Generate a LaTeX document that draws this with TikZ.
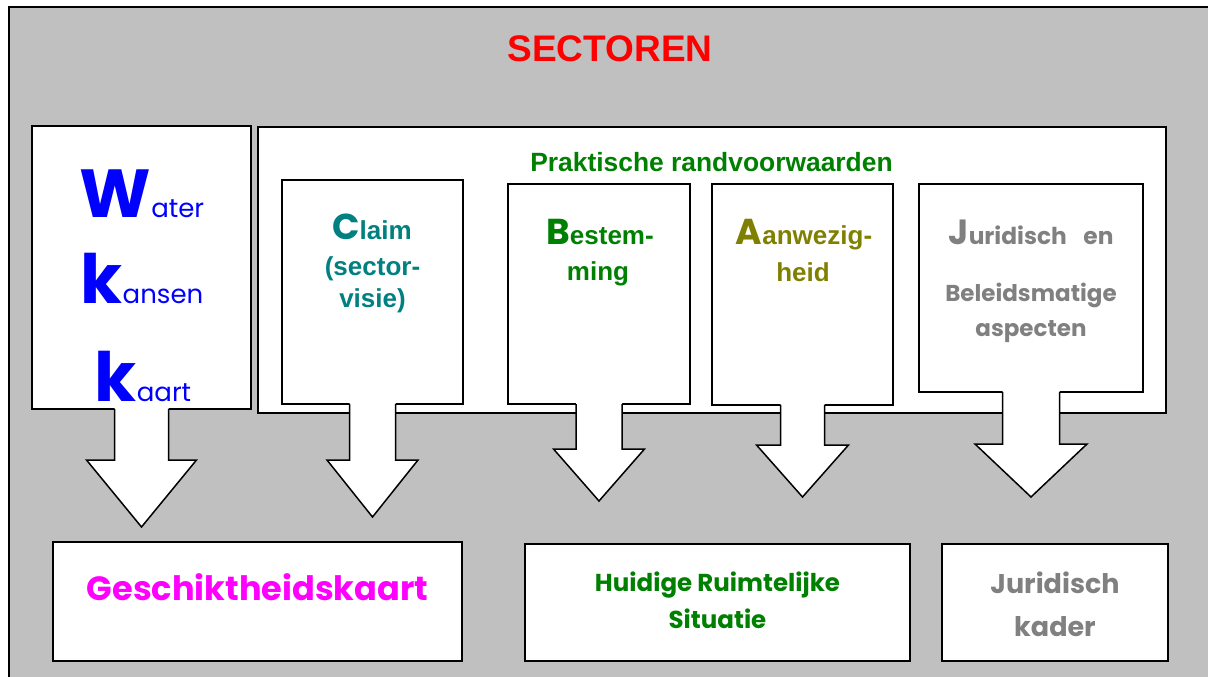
\documentclass[tikz,border=0pt]{standalone}
\usepackage{fontspec}
\setmainfont{Liberation Sans}
\newfontfamily\comic{Poppins}
\usetikzlibrary{calc}
\definecolor{bggray}{HTML}{C0C0C0}
\definecolor{teal8}{HTML}{008080}
\definecolor{green8}{HTML}{008000}
\definecolor{olive8}{HTML}{808000}
\definecolor{gray8}{HTML}{808080}
\definecolor{magenta8}{HTML}{FF00FF}
\definecolor{blue8}{HTML}{0000FF}
\definecolor{red8}{HTML}{FF0000}
\newcommand\fsz[1]{\fontsize{#1}{#1}\selectfont}
% block arrow hanging from the south of a box node
% #1 node, #2 shaft half width, #3 head top (down from south), #4 head half width, #5 tip (down from south)
\newcommand\blockarrow[5]{%
  \fill[white] ($(#1.south)+(-#2,-4)$) -- ($(#1.south)+(-#2,#3)$) -- ($(#1.south)+(-#4,#3)$)
    -- ($(#1.south)+(0,#5)$) -- ($(#1.south)+(#4,#3)$) -- ($(#1.south)+(#2,#3)$)
    -- ($(#1.south)+(#2,-4)$) -- cycle;
  \draw[arrowline] ($(#1.south)+(-#2,0)$) -- ($(#1.south)+(-#2,#3)$) -- ($(#1.south)+(-#4,#3)$)
    -- ($(#1.south)+(0,#5)$) -- ($(#1.south)+(#4,#3)$) -- ($(#1.south)+(#2,#3)$)
    -- ($(#1.south)+(#2,0)$);
}
\begin{document}
\begin{tikzpicture}[x=1pt,y=-1pt,
  box/.style={draw=black,fill=white,line width=1.5pt,inner sep=0pt,outer sep=0pt,anchor=north west},
  lbl/.style={inner sep=0pt,anchor=base},
  arrowline/.style={draw=black,line width=1.5pt,line join=miter}]

\fill[white] (0,0) rectangle (1208,677);
\useasboundingbox (0,0) rectangle (1208,677);
\clip (0,0) rectangle (1208,677);

% frame
\node[box,fill=bggray,minimum width=1230pt,minimum height=700pt] (sect) at (9,7) {};

% upper boxes
\node[box,minimum width=219pt,minimum height=283pt] (wkk) at (32,126) {};
\node[box,minimum width=908pt,minimum height=286pt] (prak) at (258,127) {};
\node[box,minimum width=181pt,minimum height=224pt] (claim) at (282,180) {};
\node[box,minimum width=182pt,minimum height=220pt] (best) at (508,184) {};
\node[box,minimum width=181pt,minimum height=221pt] (aanw) at (712,184) {};
\node[box,minimum width=224pt,minimum height=208pt] (jur) at (919,184) {};

% lower boxes
\node[box,minimum width=409pt,minimum height=119pt] (gesch) at (53,542) {};
\node[box,minimum width=385pt,minimum height=117pt] (huid) at (525,544) {};
\node[box,minimum width=226pt,minimum height=117pt] (kader) at (942,544) {};

% block arrows
\blockarrow{wkk}{27}{51}{55}{118}
\blockarrow{claim}{23}{56}{45.5}{113}
\blockarrow{best}{23}{45}{45.5}{97}
\blockarrow{aanw}{22}{40}{46}{92}
\blockarrow{jur}{28.5}{52}{56}{105}

% titles
\node[lbl,text=red8,font=\bfseries\fsz{37}] (t-sect) at (610,62) {SECTOREN};
\node[lbl,text=green8,font=\bfseries\fsz{26.4}] (t-prak) at (711.5,171) {Praktische randvoorwaarden};

% WKK
\node[lbl,text=blue8] (t-w) at (142,217) {{\comic\bfseries\fsz{68}W}{\comic\fsz{26}ater}};
\node[lbl,text=blue8] (t-k1) at (142,303) {{\comic\bfseries\fsz{68}k}{\comic\fsz{26}ansen}};
\node[lbl,text=blue8] (t-k2) at (143,401) {{\comic\bfseries\fsz{68}k}{\comic\fsz{26}aart}};

% Claim
\node[lbl,text=teal8,font=\bfseries] (t-c1) at (372,239) {{\comic\fsz{36}C}\fsz{26}laim};
\node[lbl,text=teal8,font=\bfseries\fsz{26}] (t-c2) at (372.5,275) {(sector-};
\node[lbl,text=teal8,font=\bfseries\fsz{26}] (t-c3) at (372.5,307) {visie)};

% Bestemming
\node[lbl,text=green8,font=\bfseries] (t-b1) at (600,244) {{\comic\fsz{36}B}\fsz{26}estem-};
\node[lbl,text=green8,font=\bfseries\fsz{26}] (t-b2) at (598,280) {ming};

% Aanwezigheid
\node[lbl,text=olive8,font=\bfseries] (t-a1) at (804,244) {{\comic\fsz{36}A}\fsz{26}anwezig-};
\node[lbl,text=olive8,font=\bfseries\fsz{26}] (t-a2) at (803,281) {heid};

% Juridisch en beleidsmatige
\node[lbl,text=gray8,font=\comic\bfseries] (t-j1) at (1031,244) {{\fsz{35}J}\fsz{23.3}uridisch\hspace{0.5em} en};
\node[lbl,text=gray8,font=\comic\bfseries\fsz{23}] (t-j2) at (1031,301) {Beleidsmatige};
\node[lbl,text=gray8,font=\comic\bfseries\fsz{23}] (t-j3) at (1031,336) {aspecten};

% bottom texts
\node[lbl,text=magenta8,font=\comic\bfseries\fsz{33.6}] (t-g) at (257.5,600) {Geschiktheidskaart};
\node[lbl,text=green8,font=\comic\bfseries\fsz{24.5}] (t-h1) at (717.5,591) {Huidige Ruimtelijke};
\node[lbl,text=green8,font=\comic\bfseries\fsz{24.5}] (t-h2) at (717.5,628) {Situatie};
\node[lbl,text=gray8,font=\comic\bfseries\fsz{27}] (t-k1b) at (1055,593) {Juridisch};
\node[lbl,text=gray8,font=\comic\bfseries\fsz{27}] (t-k2b) at (1055,636) {kader};
\end{tikzpicture}
\end{document}
